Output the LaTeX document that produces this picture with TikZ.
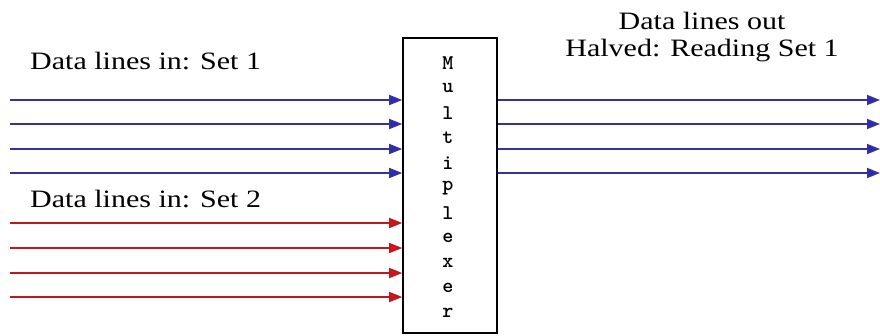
\documentclass[tikz,border=0pt]{standalone}
\usepackage{fontspec}
\setmainfont{Liberation Serif}[FakeStretch=1.2]
\usetikzlibrary{arrows.meta}
\definecolor{lineblue}{RGB}{55,50,150}
\definecolor{tipblue}{RGB}{40,40,200}
\definecolor{linered}{RGB}{190,25,30}
\definecolor{tipred}{RGB}{215,20,20}
\tikzset{
  bluewire/.style={draw=lineblue, line width=1.6pt, -{Triangle[length=13pt,width=10pt,fill=tipblue]}},
  redwire/.style={draw=linered, line width=1.6pt, -{Triangle[length=13pt,width=10pt,fill=tipred]}},
  lbl/.style={font=\fontsize{25}{27}\selectfont, inner sep=0pt, align=center},
  muxbox/.style={draw=black, line width=1.6pt, minimum width=94pt, minimum height=295pt, inner sep=0pt, fill=white},
  muxletter/.style={font=\ttfamily\bfseries\fontsize{21}{23}\selectfont, inner sep=0pt}
}
\begin{document}
\begin{tikzpicture}[x=1pt,y=-1pt]
\useasboundingbox[fill=white] (0,0) rectangle (880,335);
\node[muxbox] (mux) at (450,185.5) {};
\foreach \c [count=\i] in {M,u,l,t,i,p,l,e,x,e,r} {
  \node[muxletter] (L\i) at (448,{63+25*(\i-1)}) {\c};
}
\node[lbl, anchor=west] (set1) at (30,61) {Data lines in: Set 1};
\node[lbl, anchor=west] (set2) at (30,199) {Data lines in: Set 2};
\node[lbl] (out) at (702,37) {Data lines out\\Halved: Reading Set 1};
\foreach \y [count=\i] in {100,124,149,173} {
  \coordinate (bi\i) at (10,\y);
  \coordinate (bo\i) at (880,\y);
  \draw[bluewire] (bi\i) -- (mux.west |- bi\i);
  \draw[bluewire] (mux.east |- bo\i) -- (bo\i);
}
\foreach \y [count=\i] in {223,248,273,297} {
  \coordinate (ri\i) at (10,\y);
  \draw[redwire] (ri\i) -- (mux.west |- ri\i);
}
\end{tikzpicture}
\end{document}
